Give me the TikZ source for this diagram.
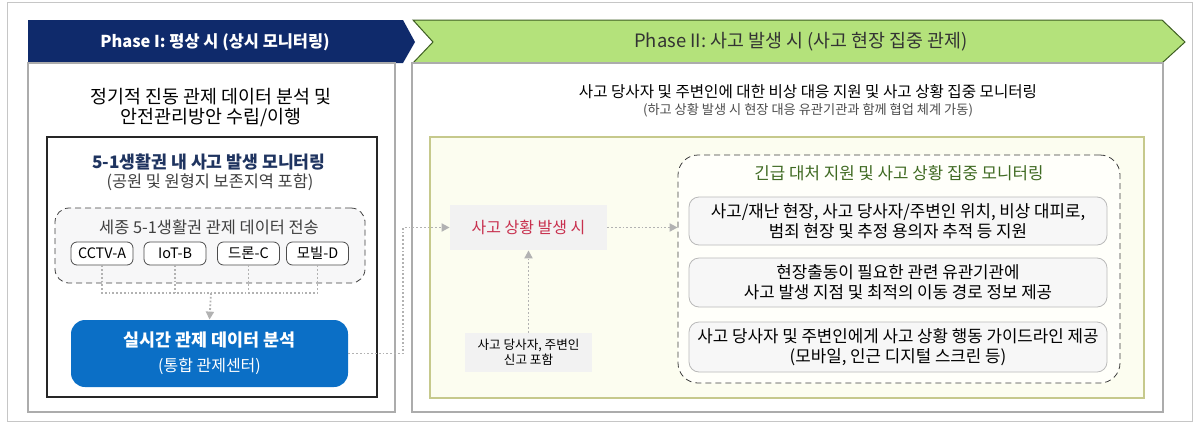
\documentclass[tikz,border=0pt]{standalone}
\usepackage{fontspec}
\setmainfont{Noto Sans CJK KR}
\usepackage{tikz}
\usetikzlibrary{arrows.meta}

\definecolor{hdrnavy}{HTML}{0F2A6B}
\definecolor{hdrgreen}{HTML}{B4E27B}
\definecolor{hdrline}{HTML}{3E5E22}
\definecolor{ctrblue}{HTML}{0B6FC6}
\definecolor{cream}{HTML}{FCFDF0}
\definecolor{olive}{HTML}{C6C98C}
\definecolor{alertred}{HTML}{C8304E}
\definecolor{leafgreen}{HTML}{3F6A22}
\definecolor{titlenavy}{HTML}{1F3460}

\begin{document}
\begin{tikzpicture}[x=0.5pt,y=-0.5pt,
  panel/.style={draw=gray!65,line width=0.6pt},
  hdrtext/.style={font=\bfseries\fontsize{8.2}{10}\selectfont},
  srcbox/.style={draw=black!70,fill=white,rounded corners=3pt,minimum width=31pt,minimum height=11.5pt,inner sep=0pt,font=\fontsize{7.2}{9}\selectfont},
  graybox/.style={fill=black!5,inner sep=0pt,align=center},
  subbox/.style={draw=gray!55,fill=black!3,rounded corners=5pt,minimum width=209pt,inner sep=0pt,align=center,font=\fontsize{8.4}{10}\selectfont},
  dots/.style={draw=gray!60,line width=0.9pt,densely dotted},
  tip/.style={-{Triangle[width=4pt,length=4pt]}}]
\useasboundingbox (0,0) rectangle (1197,423);
\draw[gray!45] (7,2) rectangle (1192,421);

\fill[hdrnavy] (28,20) -- (403,20) -- (415,42) -- (403,63) -- (28,63) -- cycle;
\node[hdrtext,text=white] (p1title) at (215,42) {Phase I: 평상 시 (상시 모니터링)};
\draw[panel] (28,63) rectangle (395,412);
\node[align=center,font=\fontsize{9.2}{10}\selectfont] (p1desc) at (211,108)
  {정기적 진동 관제 데이터 분석 및\\안전관리방안 수립/이행};

\node[draw=black!85,line width=0.6pt,minimum width=165pt,minimum height=130pt] (monbox) at (212,267) {};
\node[font=\bfseries\fontsize{8.6}{10}\selectfont,text=titlenavy] (montitle) at (209,162) {5-1생활권 내 사고 발생 모니터링};
\node[font=\fontsize{8.2}{9}\selectfont,text=black!75] (monsub) at (210,182) {(공원 및 원형지 보존지역 포함)};

\node[draw=black!75,densely dashed,fill=blue!2!black!3,rounded corners=7pt,minimum width=155pt,minimum height=37.5pt] (sendbox) at (210,245.5) {};
\node[font=\fontsize{8.2}{9}\selectfont,text=black!75] (sendtitle) at (209,227) {세종 5-1생활권 관제 데이터 전송};
\node[srcbox] (cctv) at (102,253.5) {CCTV-A};
\node[srcbox] (iot) at (175,253.5) {IoT-B};
\node[srcbox] (drone) at (248.5,253.5) {드론-C};
\node[srcbox] (mobile) at (317.5,253.5) {모빌-D};

\node[fill=ctrblue,rounded corners=7pt,minimum width=138.5pt,minimum height=33.5pt,align=center,text=white,font=\fontsize{8}{12.5}\selectfont] (center) at (209.5,353.5)
  {\textbf{\fontsize{8.7}{12.5}\selectfont 실시간 관제 데이터 분석}\\(통합 관제센터)};

\coordinate (merge) at (211,293);
\draw[dots] (cctv.south) |- (merge);
\draw[dots] (iot.south) -- (iot.south |- merge);
\draw[dots] (drone.south) -- (drone.south |- merge);
\draw[dots] (mobile.south) |- (merge);
\draw[dots,tip] (merge) -- (center.north);

\draw[hdrline,fill=hdrgreen,line width=0.5pt] (413,20) -- (1162,20) -- (1185,42) -- (1162,63) -- (413,63) -- (433,42) -- cycle;
\node[font=\fontsize{9.2}{10}\selectfont,text=black!80] (p2title) at (801,42) {Phase II: 사고 발생 시 (사고 현장 집중 관제)};
\draw[panel] (412,63) rectangle (1163,412);
\node[font=\fontsize{7.8}{9}\selectfont] (p2desc) at (808,92) {사고 당사자 및 주변인에 대한 비상 대응 지원 및 사고 상황 집중 모니터링};
\node[font=\fontsize{6.6}{8}\selectfont,text=black!70] (p2sub) at (808,110) {(하고 상황 발생 시 현장 대응 유관기관과 함께 협업 체계 가동)};

\node[draw=olive,fill=cream,line width=0.8pt,minimum width=357pt,minimum height=130.5pt] (zone) at (787,267.5) {};

\node[graybox,minimum width=78.5pt,minimum height=22.5pt,text=alertred,font=\fontsize{8}{9}\selectfont] (event) at (528.5,227.5) {사고 상황 발생 시};
\node[graybox,minimum width=63.5pt,minimum height=19.5pt,font=\fontsize{6.3}{7.5}\selectfont] (report) at (528.5,352.5) {사고 당사자, 주변인\\신고 포함};

\node[draw=black!75,densely dashed,fill=yellow!2,rounded corners=10pt,minimum width=221pt,minimum height=114pt] (support) at (899,269) {};
\node[font=\fontsize{8.4}{9}\selectfont,text=leafgreen] (suptitle) at (899,173) {긴급 대처 지원 및 사고 상황 집중 모니터링};
\node[subbox,minimum height=24pt] (task1) at (898,221)
  {사고/재난 현장, 사고 당사자/주변인 위치, 비상 대피로,\\범죄 현장 및 추정 용의자 추적 등 지원};
\node[subbox,minimum height=24.5pt] (task2) at (898,282.5)
  {현장출동이 필요한 관련 유관기관에\\사고 발생 지점 및 최적의 이동 경로 정보 제공};
\node[subbox,minimum height=25pt] (task3) at (898,347)
  {사고 당사자 및 주변인에게 사고 상황 행동 가이드라인 제공\\(모바일, 인근 디지털 스크린 등)};

\coordinate (bend) at (403,353.5);
\draw[dots,tip] (center.east) -- (bend) |- (event.west);
\draw[dots,tip] (report.north) -- (event.south);
\draw[dots,tip] (event.east) -- (event.east -| support.west);
\end{tikzpicture}
\end{document}
